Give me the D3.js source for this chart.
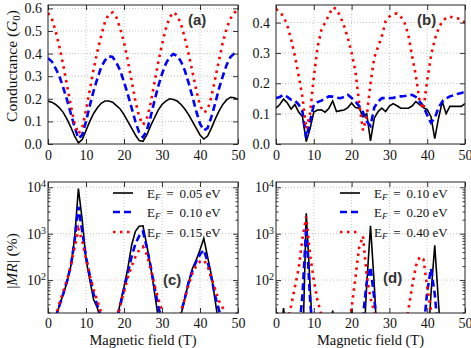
<!DOCTYPE html>
<html>
<head>
<meta charset="utf-8">
<script src="https://cdnjs.cloudflare.com/ajax/libs/d3/7.8.5/d3.min.js"></script>
<style>
  body { margin: 0; background: #fff; }
  svg { display: block; font-family: "Liberation Serif", "DejaVu Serif", serif; }
</style>
</head>
<body>
<div id="chart"></div>
<script>
// magnetic field samples (T)
const fieldT = [0,1,2,3,4,5,6,7,8,9,10,11,12,13,14,15,16,17,18,19,20,21,22,23,24,25,
  26,27,28,29,30,31,32,33,34,35,36,37,38,39,40,41,42,43,44,45,46,47,48,49,50];

// (a) conductance (G0)
const condA_005 = [0.19,0.185,0.175,0.16,0.14,0.11,0.075,0.035,0.005,0.02,0.06,0.10,0.135,0.16,0.18,0.19,0.19,
  0.185,0.17,0.155,0.13,0.10,0.07,0.04,0.015,0.012,0.04,0.08,0.115,0.15,0.175,0.19,0.20,0.197,0.19,0.175,
  0.155,0.13,0.10,0.07,0.04,0.022,0.035,0.07,0.11,0.145,0.175,0.195,0.207,0.205,0.198];
const condA_010 = [0.38,0.365,0.335,0.30,0.25,0.195,0.135,0.075,0.025,0.04,0.10,0.17,0.235,0.29,0.34,0.37,0.388,
  0.385,0.36,0.325,0.275,0.22,0.16,0.10,0.05,0.03,0.06,0.12,0.19,0.255,0.31,0.355,0.385,0.398,0.39,0.365,
  0.325,0.27,0.21,0.145,0.09,0.06,0.07,0.12,0.18,0.245,0.30,0.35,0.385,0.40,0.405];
const condA_015 = [0.58,0.555,0.50,0.43,0.35,0.26,0.17,0.09,0.045,0.07,0.15,0.24,0.33,0.41,0.48,0.54,0.575,
  0.582,0.56,0.51,0.45,0.37,0.28,0.19,0.12,0.085,0.11,0.18,0.27,0.36,0.44,0.51,0.56,0.583,0.57,0.53,
  0.47,0.40,0.32,0.24,0.17,0.14,0.15,0.21,0.29,0.37,0.45,0.51,0.555,0.58,0.595];

// (b) conductance (G0)
const condB_010 = [0.118,0.13,0.148,0.135,0.115,0.13,0.105,0.09,0.008,0.05,0.105,0.112,0.113,0.105,0.118,0.142,0.107,
  0.11,0.112,0.12,0.135,0.12,0.118,0.09,0.10,0.01,0.085,0.107,0.118,0.107,0.125,0.133,0.126,0.118,0.118,0.118,
  0.125,0.14,0.13,0.12,0.113,0.09,0.018,0.085,0.14,0.10,0.124,0.124,0.124,0.124,0.133];
const condB_020 = [0.151,0.155,0.162,0.155,0.146,0.143,0.13,0.107,0.02,0.075,0.129,0.138,0.143,0.15,0.157,0.156,0.153,
  0.151,0.155,0.162,0.152,0.14,0.125,0.105,0.075,0.06,0.12,0.14,0.151,0.151,0.151,0.152,0.155,0.157,0.158,0.16,
  0.162,0.155,0.14,0.124,0.095,0.07,0.085,0.12,0.14,0.15,0.157,0.16,0.165,0.168,0.172];
const condB_040 = [0.445,0.435,0.42,0.39,0.345,0.29,0.225,0.155,0.05,0.10,0.22,0.32,0.375,0.40,0.425,0.45,0.445,
  0.42,0.39,0.35,0.30,0.24,0.135,0.045,0.09,0.20,0.285,0.32,0.355,0.405,0.42,0.428,0.43,0.42,0.40,0.36,
  0.29,0.225,0.14,0.115,0.21,0.29,0.345,0.38,0.405,0.415,0.42,0.415,0.414,0.41,0.40];

// (c) |MR| (%)
const mrC_005 = [3.2,6.3,15.8,28,50,89,200,794,9330,1995,282,100,38,25,12.6,6.3,3.2,
  4,12.6,31.6,71,178,562,1122,1445,1479,562,200,56,15.8,6.3,3.2,3.2,4,7.9,17.8,
  40,89,178,269,447,794,316,126,35.5,10,4,3.2,2.5,2.5,2.5];
const mrC_010 = [3.2,6.3,15.8,28,50,95,200,708,3800,1122,316,126,50,28,15.8,7.9,4,
  5,12.6,28,63,141,316,603,891,1122,501,200,71,28,12.6,5,3.2,4,8.9,20,
  40,89,158,251,355,447,251,112,45,22.4,11.2,5,3.2,2.5,2.5];
const mrC_015 = [4,7.9,15.8,31.6,56,100,200,501,1259,708,282,126,63,35.5,20,10,5,
  6.3,15.8,28,56,112,200,316,447,525,355,178,79,40,22.4,10,5,6.3,11.2,20,
  40,79,141,200,251,269,200,112,63,35.5,25,15.8,7.9,5,4];

// (d) |MR| (%)
const mrD_010 = [2,5,25,5,2,2,2,2,2754,79,2,2,2,2,5,22,5,
  2,2,5,24,5,2,2,79,1479,79,2,2,2,2,2,2,2,2,2,
  2,2,2,2,2,50,562,31.6,2,2,2,2,2,2,2];
const mrD_020 = [2,2,2,2,2,2,6.3,48,1413,40,3.2,2,2,2,2,2,2,
  2,2,2,2,2,3.2,15.8,91,191,40,6.3,2,2,2,2,2,2,2,2,
  2,2,2,7.9,56,178,50,6.3,2,2,2,2,2,2,2];
const mrD_040 = [2,2,4,12.6,28,71,178,794,2344,355,100,35.5,17.8,7.9,4,2,2,
  2,4,7.9,25,110,501,891,126,40,21,10,4,2,2,2,2,4,7.9,22.4,
  71,200,316,282,71,22.4,7.9,4,2,2,2,2,2,2,2];

const legendC = ["0.05", "0.10", "0.15"];
const legendD = ["0.10", "0.20", "0.40"];

const xTicks = [0, 10, 20, 30, 40, 50];
const yTicksA = [0, 0.1, 0.2, 0.3, 0.4, 0.5, 0.6];
const yTicksB = [0, 0.1, 0.2, 0.3, 0.4];
const yTicksLog = [100, 1000, 10000];

const styles = [
  { color: "#000", width: 1.6, dash: null },
  { color: "#0000ff", width: 2.6, dash: "7,4" },
  { color: "#ff0000", width: 2.6, dash: "2.5,4.5" }
];

const W = 471, H = 348;
const svg = d3.select("#chart").append("svg")
  .attr("width", W).attr("height", H);

let clipId = 0;

function drawPanel(o) {
  const x = d3.scaleLinear().domain([0, 50]).range([o.x0, o.x1]);
  const y = o.log
    ? d3.scaleLog().domain(o.ydom).range([o.y1, o.y0])
    : d3.scaleLinear().domain(o.ydom).range([o.y1, o.y0]);

  const g = svg.append("g");
  const id = "clip" + (clipId++);
  g.append("clipPath").attr("id", id)
    .append("rect")
    .attr("x", o.x0).attr("y", o.y0)
    .attr("width", o.x1 - o.x0).attr("height", o.y1 - o.y0);

  // grid
  const grid = g.append("g")
    .attr("stroke", "#b8b8b8").attr("stroke-width", 0.8)
    .attr("stroke-dasharray", "1,2");
  xTicks.slice(1, -1).forEach(t => {
    grid.append("line").attr("x1", x(t)).attr("x2", x(t)).attr("y1", o.y0).attr("y2", o.y1);
  });
  o.yticks.forEach(t => {
    if (y(t) > o.y0 + 1 && y(t) < o.y1 - 1)
      grid.append("line").attr("x1", o.x0).attr("x2", o.x1).attr("y1", y(t)).attr("y2", y(t));
  });

  // curves
  const line = d3.line().x((d, i) => x(fieldT[i])).y(d => y(d));
  const lines = g.append("g").attr("clip-path", `url(#${id})`);
  o.series.forEach((s, i) => {
    const st = styles[i];
    lines.append("path")
      .datum(s)
      .attr("d", line)
      .attr("fill", "none")
      .attr("stroke", st.color)
      .attr("stroke-width", st.width)
      .attr("stroke-dasharray", st.dash)
      .attr("stroke-linejoin", "miter");
  });

  // axes, ticks inward on all four sides
  const fmt = o.log ? "" : d3.format(".1f");
  g.append("g").attr("transform", `translate(0,${o.y1})`)
    .call(d3.axisBottom(x).tickValues(xTicks).tickSize(-5).tickPadding(o.log ? 5 : 6));
  g.append("g").attr("transform", `translate(0,${o.y0})`)
    .call(d3.axisTop(x).tickValues(xTicks).tickSize(-5).tickFormat(""));
  const left = g.append("g").attr("transform", `translate(${o.x0},0)`)
    .call(d3.axisLeft(y).tickValues(o.yticks).tickSize(-5)
      .tickPadding(o.log ? 2 : 6).tickFormat(o.log ? (() => "") : fmt));
  g.append("g").attr("transform", `translate(${o.x1},0)`)
    .call(d3.axisRight(y).tickValues(o.yticks).tickSize(-5).tickFormat(""));

  if (o.log) {
    const minor = [];
    [10, 100, 1000].forEach(dec => {
      for (let k = 2; k <= 9; k++) minor.push(k * dec);
    });
    const mv = minor.filter(v => v >= o.ydom[0] && v <= o.ydom[1]);
    g.append("g").attr("transform", `translate(${o.x0},0)`)
      .call(d3.axisLeft(y).tickValues(mv).tickSize(-2.5).tickFormat(""));
    g.append("g").attr("transform", `translate(${o.x1},0)`)
      .call(d3.axisRight(y).tickValues(mv).tickSize(-2.5).tickFormat(""));
    left.selectAll(".tick text").each(function (d) {
      const t = d3.select(this);
      t.text("10");
      t.append("tspan").attr("dy", "-0.5em").attr("font-size", "10px")
        .text(Math.round(Math.log10(d)));
    });
  }

  g.selectAll(".domain").remove();
  g.selectAll(".tick line").attr("stroke", "#000").attr("stroke-width", 0.8);
  g.selectAll(".tick text")
    .attr("font-family", "Liberation Serif, serif")
    .attr("font-size", 14).attr("fill", "#111");

  // frame
  g.append("rect")
    .attr("x", o.x0).attr("y", o.y0)
    .attr("width", o.x1 - o.x0).attr("height", o.y1 - o.y0)
    .attr("fill", "none").attr("stroke", "#222").attr("stroke-width", 1);

  // panel label
  g.append("text")
    .attr("x", o.lx).attr("y", o.ly)
    .attr("font-family", "Liberation Sans, Arial, sans-serif")
    .attr("font-weight", "bold").attr("font-size", 15)
    .attr("fill", "#333")
    .text(o.label);

  if (o.legend) {
    o.legend.forEach((lab, i) => {
      const st = styles[i];
      const ly = o.legY[i];
      g.append("line")
        .attr("x1", o.legX).attr("x2", o.legX + 20)
        .attr("y1", ly).attr("y2", ly)
        .attr("stroke", st.color).attr("stroke-width", st.width)
        .attr("stroke-dasharray", st.dash);
      const t = g.append("text")
        .attr("x", o.legX + 34).attr("y", ly + 4.5)
        .attr("font-size", 13).attr("fill", "#111");
      t.append("tspan").text("E");
      t.append("tspan").attr("font-size", 9).attr("font-style", "italic")
        .attr("dy", 2.5).text("F");
      t.append("tspan").attr("dy", -2.5).attr("xml:space", "preserve")
        .text("\u2009 = \u2009" + lab + " eV");
    });
  }

  if (o.xlabel) {
    g.append("text")
      .attr("x", (o.x0 + o.x1) / 2).attr("y", 344.5)
      .attr("text-anchor", "middle")
      .attr("font-size", 14.5).attr("fill", "#111")
      .text("Magnetic field (T)");
  }
}

drawPanel({ x0: 48, x1: 238, y0: 5, y1: 144, ydom: [0, 0.615], yticks: yTicksA,
  series: [condA_005, condA_010, condA_015], label: "(a)", lx: 188, ly: 25 });
drawPanel({ x0: 276, x1: 465, y0: 5, y1: 144, ydom: [0, 0.458], yticks: yTicksB,
  series: [condB_010, condB_020, condB_040], label: "(b)", lx: 417, ly: 25 });
drawPanel({ x0: 48, x1: 238, y0: 182, y1: 313, ydom: [19.5, 13000], yticks: yTicksLog, log: true,
  series: [mrC_005, mrC_010, mrC_015], label: "(c)", lx: 163, ly: 285,
  legend: legendC, legX: 113, legY: [193, 212, 232], xlabel: true });
drawPanel({ x0: 276, x1: 465, y0: 182, y1: 313, ydom: [19.5, 13000], yticks: yTicksLog, log: true,
  series: [mrD_010, mrD_020, mrD_040], label: "(d)", lx: 383, ly: 283,
  legend: legendD, legX: 340, legY: [193, 212, 232], xlabel: true });

// y axis titles
const yl1 = svg.append("text")
  .attr("transform", "translate(17,66) rotate(-90)")
  .attr("text-anchor", "middle").attr("font-size", 15.5).attr("fill", "#111");
yl1.append("tspan").text("Conductance (");
yl1.append("tspan").attr("font-style", "italic").text("G");
yl1.append("tspan").attr("font-size", 11).attr("dy", 3).text("0");
yl1.append("tspan").attr("dy", -3).text(")");

const yl2 = svg.append("text")
  .attr("transform", "translate(17,261) rotate(-90)")
  .attr("text-anchor", "middle").attr("font-size", 15.5).attr("fill", "#111");
yl2.append("tspan").text("|");
yl2.append("tspan").attr("font-style", "italic").text("MR");
yl2.append("tspan").attr("xml:space", "preserve").text("| (%)");
</script>
</body>
</html>
